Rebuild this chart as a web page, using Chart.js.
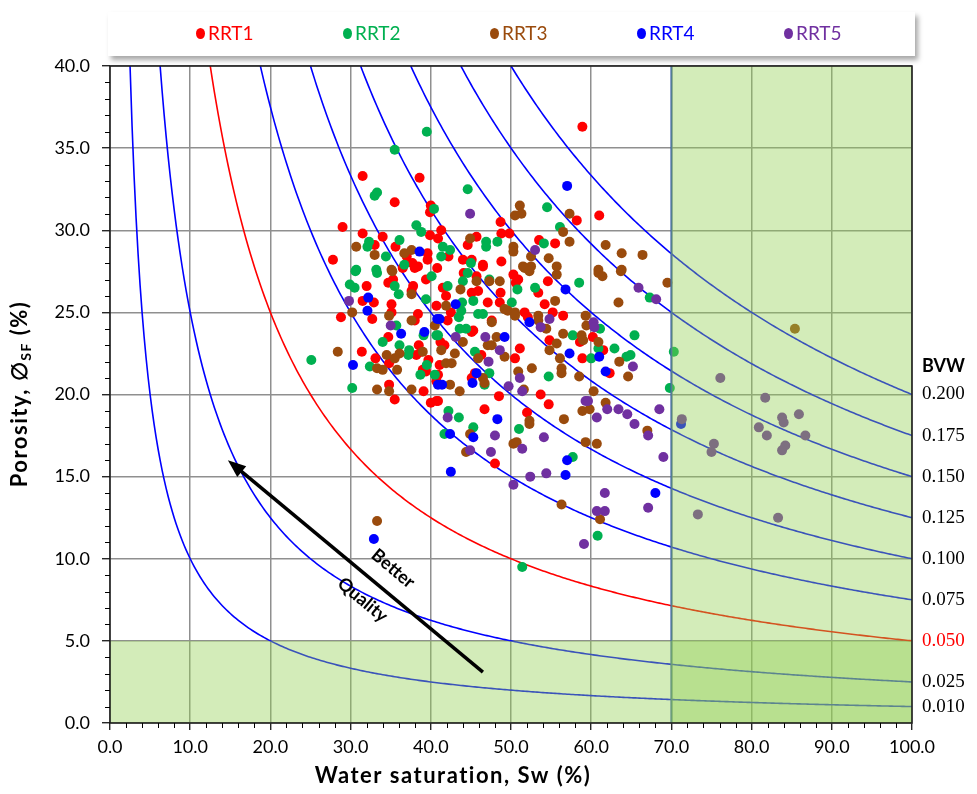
<!DOCTYPE html>
<html>
<head>
<meta charset="utf-8">
<title>RRT porosity vs water saturation</title>
<script src="https://cdn.jsdelivr.net/npm/chart.js@4.4.0/dist/chart.umd.min.js"></script>
<style>
  html, body { margin: 0; padding: 0; background: #fff; }
  #wrap { position: relative; width: 977px; height: 794px; }
  #legend {
    position: absolute; left: 108px; top: 12px; width: 807px; height: 44px;
    background: #fff; box-shadow: 3px 4px 5px rgba(0, 0, 0, 0.35); z-index: 2;
  }
  .item { position: absolute; top: 10px; font-family: Lato, sans-serif; font-size: 19px; line-height: 22px; white-space: nowrap; }
  .dot { display: inline-block; width: 9px; height: 11px; border-radius: 50%; margin-right: 3px; vertical-align: 1px; }
</style>
</head>
<body>
<div id="wrap">
  <div id="legend"></div>
  <canvas id="chart" width="977" height="794"></canvas>
</div>
<script>
// rock types and their colours
const seriesNames = ['RRT1', 'RRT2', 'RRT3', 'RRT4', 'RRT5'];
const seriesColors = ['#ff0000', '#00b050', '#9a4b0d', '#0000ff', '#7030a0'];

// [Sw %, porosity %]
const rrt1Points = [
  [58.9,36.3],[31.5,33.3],[38.6,33.2],[35.5,31.7],[40.0,31.5],[39.9,31.1],[29.0,30.2],[39.9,29.7],[31.5,29.8],
  [34.0,29.6],[33.0,29.1],[35.6,29.0],[39.6,28.6],[39.6,28.2],[37.0,28.4],[27.8,28.2],[37.7,28.0],[38.4,27.8],
  [48.7,30.5],[48.8,29.8],[49.8,29.8],[45.7,29.6],[44.6,29.1],[41.3,30.0],[40.9,29.5],[42.2,28.4],[44.0,28.2],
  [45.1,28.2],[48.8,28.1],[46.5,27.9],[53.5,29.4],[55.5,29.2],[58.2,30.6],[61.0,30.9],
  [32.0,26.6],[34.7,26.8],[35.3,27.0],[36.5,27.7],[38.0,27.7],[37.8,26.6],[37.6,26.3],[39.4,27.0],[40.8,27.7],
  [31.5,25.7],[32.9,25.6],[35.1,25.5],[35.1,25.0],[28.8,24.7],[32.7,24.6],[38.4,24.9],[38.0,24.5],[34.7,23.5],
  [38.5,23.0],[38.8,22.6],[38.2,22.4],[31.4,22.6],[33.1,22.2],[39.7,22.1],[34.8,21.9],[39.0,21.5],[39.4,21.4],
  [34.8,20.6],[35.5,19.7],[39.1,20.2],[40.0,19.5],[40.7,19.6],
  [41.5,26.5],[41.9,26.0],[44.1,27.4],[45.7,27.2],[46.5,27.8],[50.3,27.3],[50.9,27.0],[50.6,26.8],[45.9,26.3],
  [48.7,26.2],[53.4,26.2],[54.6,26.9],[54.2,25.5],[45.1,26.2],[40.7,25.4],[47.1,25.6],[48.6,25.6],[42.5,25.0],
  [42.1,24.5],[51.7,25.0],[52.1,24.7],[55.2,25.0],[56.5,24.8],[47.6,24.5],[45.3,23.9],[45.1,23.8],[41.2,23.2],
  [41.7,23.0],[51.1,22.8],[50.5,22.2],[46.3,22.4],[41.1,21.8],[54.8,23.3],[45.5,21.3],[45.1,21.0],[40.9,21.2],
  [40.7,20.8],[40.9,19.6],[48.5,19.9],[46.7,19.1],[53.7,20.0],[54.7,19.4],[52.0,18.9],
  [58.6,23.2],[60.2,23.5],[61.5,22.7],[58.9,22.2],[62.3,21.3],[48.0,15.8]
];
const rrt2Points = [
  [39.5,36.0],[35.5,34.9],[33.3,32.3],[33.0,32.1],[40.4,31.3],[38.2,30.3],[38.8,29.9],[32.3,29.3],[32.1,29.0],
  [36.1,29.4],[34.4,28.4],[30.7,27.6],[33.2,27.6],[36.7,27.9],
  [44.6,32.5],[54.5,31.4],[48.3,29.3],[46.9,29.3],[46.9,29.0],[41.5,29.0],[41.3,28.4],[42.4,28.8],[45.0,28.0],
  [54.1,29.2],[56.1,30.2],
  [30.6,27.5],[33.3,27.4],[29.9,26.7],[30.5,26.5],[35.5,26.6],[36.0,26.1],[40.1,27.2],[39.4,25.8],[35.7,24.2],
  [39.1,23.6],[40.7,23.6],[34.0,23.2],[36.1,23.0],[37.3,22.7],[37.2,22.4],[25.1,22.1],[39.5,21.8],[32.4,21.7],
  [38.7,21.2],[40.5,21.2],[30.2,20.4],
  [42.1,26.6],[44.6,27.4],[44.0,26.9],[47.3,27.0],[50.8,26.4],[53.0,26.5],[43.9,25.6],[45.3,25.7],[50.1,25.6],
  [45.9,24.9],[46.5,24.9],[43.8,25.1],[43.5,24.7],[57.7,23.6],[43.6,24.0],[44.4,24.0],[40.9,23.6],[45.5,22.6],
  [54.7,21.1],[47.3,21.3],[46.7,20.6],[42.2,19.0],[43.5,18.6],
  [58.5,26.8],[67.3,25.9],[61.1,24.0],[65.4,23.6],[62.9,22.8],[60.9,22.8],[60.0,22.2],[64.4,22.3],[64.9,22.4],
  [70.3,22.6],[69.8,20.4],
  [41.7,17.6],[45.3,18.0],[51.0,17.9],[51.4,9.5],[57.7,16.2],[60.8,11.4]
];
const rrt3Points = [
  [30.7,29.0],[33.0,28.5],[36.7,28.6],[37.6,28.8],[35.1,27.6],
  [51.1,31.5],[50.5,30.9],[51.3,31.0],[44.9,29.5],[50.3,29.0],[50.3,28.7],[51.5,27.8],[52.5,27.8],[52.5,28.4],
  [54.7,28.3],[56.5,29.9],[57.3,31.0],[57.3,29.3],[61.8,29.1],[63.8,28.6],[66.4,28.5],[63.8,27.6],[60.9,27.6],
  [35.2,27.5],[37.6,26.1],[30.2,25.0],[34.8,24.8],[37.6,24.5],[40.5,24.2],[36.1,22.5],[35.5,22.2],[34.5,22.4],
  [39.0,22.6],[28.4,22.6],[33.3,21.6],[34.0,21.5],[35.8,21.5],[33.3,20.3],[34.8,20.2],[37.6,20.3],
  [43.7,26.4],[45.7,26.9],[47.3,26.9],[48.6,26.9],[51.7,27.7],[52.3,27.5],[55.7,27.3],[55.7,27.8],[55.5,25.7],
  [41.9,25.4],[49.2,25.2],[49.6,25.1],[50.5,25.0],[50.5,24.8],[53.4,24.8],[53.4,24.5],[54.4,24.0],[56.5,23.7],
  [47.6,24.4],[48.2,23.5],[44.0,23.2],[47.1,23.0],[47.6,23.0],[49.2,22.3],[41.3,22.7],[43.0,22.5],[45.9,22.2],
  [41.9,21.9],[42.6,21.9],[54.8,22.7],[55.7,23.1],[56.1,22.2],[56.3,21.6],[56.3,21.3],[50.9,21.4],[52.6,21.6],
  [46.5,21.0],[46.7,20.7],[51.6,20.3],[42.4,20.6],[43.6,20.2],[52.3,18.4],[56.6,18.5],
  [60.9,27.4],[61.4,27.2],[63.7,27.5],[69.5,26.8],[63.4,25.6],[59.3,24.8],[59.4,24.2],[58.8,23.6],[59.0,23.3],
  [60.9,23.2],[63.5,22.0],[64.6,21.1],[58.5,21.1],[60.3,20.2],[61.8,19.5],[58.9,19.0],[59.8,19.1],
  [33.3,12.3],[44.9,17.6],[44.4,16.5],[52.3,18.2],[50.3,17.0],[50.7,17.1],[56.3,13.3],[67.0,17.8],[59.3,17.1],
  [60.7,17.0],[61.1,12.4],[85.4,24.0]
];
const rrt4Points = [
  [38.6,28.7],[57.0,32.7],[32.2,25.9],[32.1,25.1],[36.3,23.7],[39.2,23.8],[40.8,24.6],[30.3,21.8],[40.9,20.6],
  [56.8,26.4],[43.1,25.5],[41.1,24.6],[52.3,24.4],[49.2,23.5],[57.3,22.5],[45.7,21.3],[45.2,20.7],[41.4,20.6],
  [48.3,18.5],[61.0,22.3],[61.8,21.4],[71.2,18.2],[32.9,11.2],[42.4,17.6],[45.3,17.4],[42.5,15.3],[56.8,15.1],
  [57.0,16.0],[68.0,14.0]
];
const rrt5Points = [
  [44.9,31.0],[53.0,28.8],[29.8,25.7],[35.0,24.2],[54.8,24.6],[53.7,24.1],[43.1,23.5],[46.8,23.5],[48.6,22.7],
  [47.2,22.0],[49.7,20.5],[51.1,21.0],[51.4,20.2],[42.1,18.6],[65.9,26.5],[68.1,25.8],[60.3,24.4],[60.4,24.1],
  [65.2,21.7],[59.3,19.6],[59.6,19.6],[62.0,19.1],[63.4,19.1],[64.5,18.8],[60.7,18.6],[65.4,18.2],[68.5,19.1],
  [71.3,18.5],[48.0,17.5],[44.9,16.6],[47.5,16.5],[51.4,16.7],[54.1,17.4],[50.3,14.5],[52.4,15.0],[54.4,15.2],
  [67.1,17.5],[69.0,16.2],[61.7,14.0],[60.7,12.9],[61.7,12.9],[67.1,13.1],[59.1,10.9],[76.1,21.0],[81.7,19.8],
  [85.9,18.8],[83.8,18.6],[84.0,18.3],[80.9,18.0],[81.9,17.5],[86.7,17.5],[84.2,16.9],[83.8,16.6],[75.3,17.0],
  [75.0,16.5],[73.3,12.7],[83.3,12.5]
];
const seriesPoints = [rrt1Points, rrt2Points, rrt3Points, rrt4Points, rrt5Points];

// bulk volume water lines, BVW = phi * Sw
const bvwValues = [0.010, 0.025, 0.050, 0.075, 0.100, 0.125, 0.150, 0.175, 0.200];
const bvwLabels = ['0.010', '0.025', '0.050', '0.075', '0.100', '0.125', '0.150', '0.175', '0.200'];
const bvwCutoff = 0.050;

// cut-offs shaded as non-reservoir
const swCutoff = 70;
const phiCutoff = 5;

const xTicks = [0, 10, 20, 30, 40, 50, 60, 70, 80, 90, 100];
const yTicks = [0, 5, 10, 15, 20, 25, 30, 35, 40];

// legend box
const legendEl = document.getElementById('legend');
seriesNames.forEach((name, i) => {
  const el = document.createElement('div');
  el.className = 'item';
  el.style.left = (88 + i * 147) + 'px';
  el.style.color = seriesColors[i];
  el.innerHTML = '<span class="dot" style="background:' + seriesColors[i] + '"></span>' + name;
  legendEl.appendChild(el);
});

function bvwCurve(bvw) {
  const pts = [];
  const swStart = bvw * 10000 / 40;
  for (let sw = swStart; sw <= 100.0001; sw += 0.25) pts.push({ x: sw, y: bvw * 10000 / sw });
  return pts;
}

const datasets = [];
bvwValues.forEach(bvw => {
  datasets.push({
    type: 'line',
    data: bvwCurve(bvw),
    borderColor: bvw === bvwCutoff ? '#ff0000' : '#0000ff',
    borderWidth: 1.6,
    pointRadius: 0,
    tension: 0,
    order: 10
  });
});
seriesNames.forEach((name, i) => {
  datasets.push({
    type: 'scatter',
    label: name,
    data: seriesPoints[i].map(p => ({ x: p[0], y: p[1] })),
    backgroundColor: seriesColors[i],
    borderWidth: 0,
    pointRadius: 5,
    order: 5 - i
  });
});

const overlayPlugin = {
  id: 'overlay',
  afterDatasetsDraw(chart) {
    const { ctx, chartArea: a, scales: { x, y } } = chart;
    ctx.save();
    // cut-off outline
    ctx.strokeStyle = '#3f63a8';
    ctx.lineWidth = 2;
    ctx.beginPath();
    ctx.moveTo(x.getPixelForValue(swCutoff), a.top);
    ctx.lineTo(x.getPixelForValue(swCutoff), a.bottom);
    ctx.stroke();

    // translucent green bands
    ctx.fillStyle = 'rgba(146, 208, 80, 0.4)';
    const xc = x.getPixelForValue(swCutoff);
    ctx.fillRect(xc, a.top, a.right - xc, a.bottom - a.top);
    const yc = y.getPixelForValue(phiCutoff);
    ctx.fillRect(a.left, yc, a.right - a.left, a.bottom - yc);

    // frame
    ctx.strokeStyle = '#1a1a1a';
    ctx.lineWidth = 1.5;
    ctx.strokeRect(a.left, a.top, a.right - a.left, a.bottom - a.top);

    // minor ticks
    ctx.strokeStyle = '#000';
    ctx.lineWidth = 1;
    for (let v = 1; v < 40; v++) {
      if (v % 5 === 0) continue;
      const py = Math.round(y.getPixelForValue(v)) + 0.5;
      ctx.beginPath(); ctx.moveTo(a.left - 5, py); ctx.lineTo(a.left, py); ctx.stroke();
    }
    for (let v = 2; v < 100; v += 2) {
      if (v % 10 === 0) continue;
      const px = Math.round(x.getPixelForValue(v)) + 0.5;
      ctx.beginPath(); ctx.moveTo(px, a.bottom); ctx.lineTo(px, a.bottom + 5); ctx.stroke();
    }

    // "better quality" arrow
    const hx = x.getPixelForValue(14.7), hy = y.getPixelForValue(16.0);
    const tx = x.getPixelForValue(46.5), ty = y.getPixelForValue(3.1);
    const ang = Math.atan2(hy - ty, hx - tx);
    const headLen = 18, headW = 7;
    ctx.strokeStyle = '#000';
    ctx.fillStyle = '#000';
    ctx.lineWidth = 3.5;
    ctx.beginPath();
    ctx.moveTo(tx, ty);
    ctx.lineTo(hx - Math.cos(ang) * headLen * 0.8, hy - Math.sin(ang) * headLen * 0.8);
    ctx.stroke();
    ctx.beginPath();
    ctx.moveTo(hx, hy);
    ctx.lineTo(hx - Math.cos(ang) * headLen + Math.sin(ang) * headW, hy - Math.sin(ang) * headLen - Math.cos(ang) * headW);
    ctx.lineTo(hx - Math.cos(ang) * headLen - Math.sin(ang) * headW, hy - Math.sin(ang) * headLen + Math.cos(ang) * headW);
    ctx.closePath();
    ctx.fill();

    const textAng = Math.atan2(ty - hy, tx - hx);
    ctx.font = 'bold 18px Lato, sans-serif';
    ctx.textAlign = 'center';
    ctx.textBaseline = 'middle';
    [['Better', 35.3, 9.4], ['Quality', 31.5, 7.5]].forEach(([t, sx, sy]) => {
      ctx.save();
      ctx.translate(x.getPixelForValue(sx), y.getPixelForValue(sy));
      ctx.rotate(textAng);
      ctx.fillText(t, 0, 0);
      ctx.restore();
    });

    // BVW labels on the right
    ctx.textAlign = 'left';
    ctx.fillStyle = '#000';
    ctx.font = 'bold 18px Lato, sans-serif';
    ctx.fillText('BVW', a.right + 10, y.getPixelForValue(21.7));
    ctx.font = '19px "Liberation Serif", serif';
    bvwValues.forEach((bvw, i) => {
      ctx.fillStyle = bvw === bvwCutoff ? '#ff0000' : '#000';
      ctx.fillText(bvwLabels[i], a.right + 10, y.getPixelForValue(bvw * 100));
    });

    // axis titles
    ctx.fillStyle = '#000';
    ctx.font = 'bold 22px Lato, sans-serif';
    ctx.letterSpacing = '1.5px';
    ctx.textAlign = 'center';
    ctx.fillText('Water saturation, Sw (%)', 453, 776);

    ctx.save();
    ctx.translate(20, 394);
    ctx.rotate(-Math.PI / 2);
    const p1 = 'Porosity, \u2205', sub = 'SF', p2 = ' (%)';
    const fMain = 'bold 22px Lato, sans-serif', fSub = 'bold 14px Lato, sans-serif';
    ctx.font = fMain; const w1 = ctx.measureText(p1).width, w3 = ctx.measureText(p2).width;
    ctx.font = fSub; const w2 = ctx.measureText(sub).width;
    let cx = -(w1 + w2 + w3) / 2;
    ctx.textAlign = 'left';
    ctx.font = fMain; ctx.fillText(p1, cx, 0); cx += w1;
    ctx.font = fSub; ctx.fillText(sub, cx, 6); cx += w2;
    ctx.font = fMain; ctx.fillText(p2, cx, 0);
    ctx.restore();

    ctx.restore();
  }
};

new Chart(document.getElementById('chart'), {
  data: { datasets },
  options: {
    responsive: false,
    animation: false,
    events: [],
    layout: { padding: { top: 66, right: 65, left: 0, bottom: 0 } },
    plugins: { legend: { display: false }, tooltip: { enabled: false } },
    scales: {
      x: {
        type: 'linear', min: 0, max: 100,
        afterFit: s => { s.height = 71; },
        afterBuildTicks: s => { s.ticks = xTicks.map(v => ({ value: v })); },
        ticks: { callback: v => v.toFixed(1), color: '#000', font: { family: 'Lato', size: 18 }, padding: 6, maxRotation: 0 },
        grid: { color: '#8f8f8f', lineWidth: 1.5, tickLength: 7, tickColor: '#000', tickWidth: 1.2 },
        border: { display: false }
      },
      y: {
        type: 'linear', min: 0, max: 40,
        afterFit: s => { s.width = 110; },
        afterBuildTicks: s => { s.ticks = yTicks.map(v => ({ value: v })); },
        ticks: { callback: v => v.toFixed(1), color: '#000', font: { family: 'Lato', size: 18 }, padding: 12 },
        grid: { color: '#8f8f8f', lineWidth: 1.5, tickLength: 8, tickColor: '#000', tickWidth: 1.2 },
        border: { display: false }
      }
    }
  },
  plugins: [overlayPlugin]
});
</script>
</body>
</html>
